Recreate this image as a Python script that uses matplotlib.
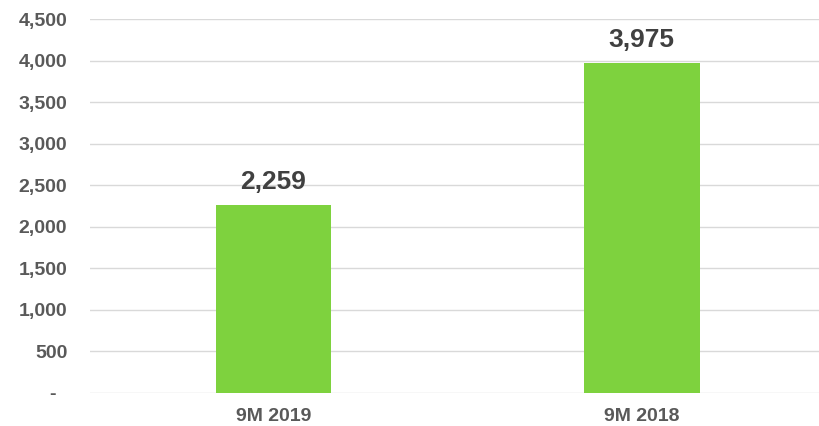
import matplotlib.pyplot as plt
from matplotlib.ticker import FixedLocator

plt.rcParams['font.family'] = ['Liberation Sans', 'DejaVu Sans']

periodos = ["9M 2019", "9M 2018"]
valores = [2259, 3975]
ticks_y = [0, 500, 1000, 1500, 2000, 2500, 3000, 3500, 4000, 4500]
etiquetas_y = ["-  ", "500", "1,000", "1,500", "2,000", "2,500", "3,000", "3,500", "4,000", "4,500"]

fig = plt.figure(figsize=(8.19, 4.26), dpi=100)
ax = fig.add_axes([0.1093, 0.0775, 0.8987, 0.8775])

x = range(len(periodos))
ax.bar(x, valores, width=0.315, color="#7ED23E", zorder=3)

for xi, v in zip(x, valores):
    ax.annotate(f"{v:,}", (xi, v), xytext=(0, 11.5), textcoords="offset points",
                ha="center", va="baseline", fontsize=19, fontweight="bold", color="#404040")

ax.set_xlim(-0.5, 1.5)
ax.set_ylim(0, 4500)
ax.set_xticks(list(x))
ax.set_xticklabels(periodos)
ax.yaxis.set_major_locator(FixedLocator(ticks_y))
ax.set_yticklabels(etiquetas_y)
ax.grid(axis="y", color="#D9D9D9", linewidth=1, zorder=0)
ax.tick_params(axis="both", length=0, labelsize=14, labelcolor="#595959")
ax.tick_params(axis="y", pad=16)
ax.tick_params(axis="x", pad=11)
for lbl in ax.get_xticklabels() + ax.get_yticklabels():
    lbl.set_fontweight("bold")
for s in ax.spines.values():
    s.set_visible(False)

fig.savefig("out.png", dpi=100)
